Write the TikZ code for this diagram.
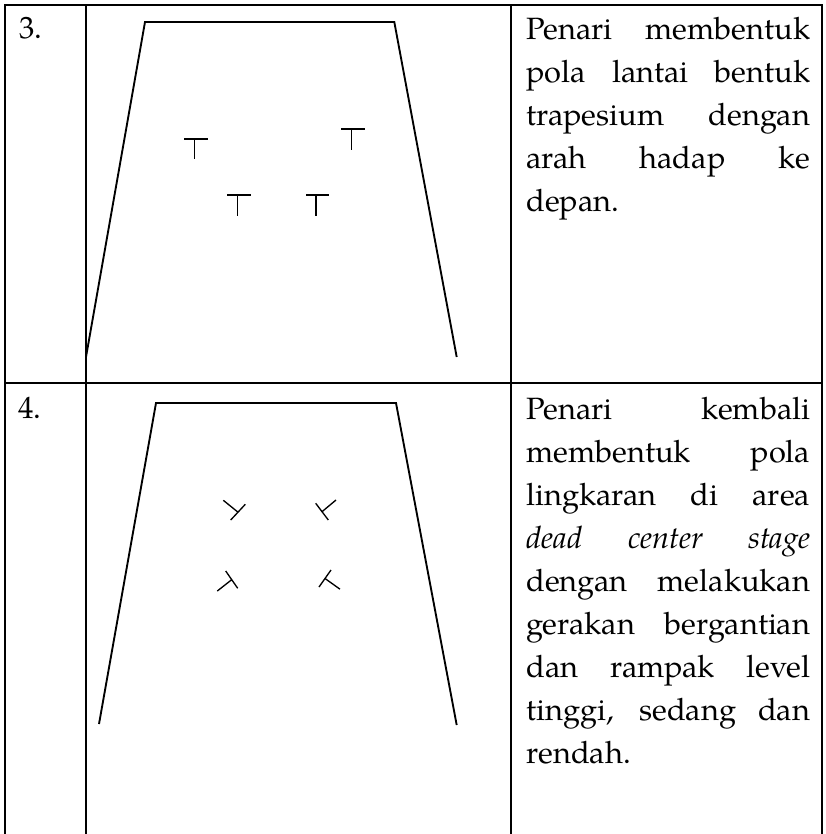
\documentclass[tikz,border=0pt]{standalone}
\usepackage{fontspec}
\setmainfont{TeX Gyre Pagella}
\tikzset{
  gridline/.style={line width=1.4pt, line cap=rect},
  stageline/.style={line width=1.4pt, line join=miter},
  dancer/.style={line width=1.0pt},
  celltext/.style={anchor=base west, inner sep=0pt},
}
\newcommand{\celltxt}{\fontsize{23.1pt}{32.25pt}\selectfont\tolerance=10000\hyphenpenalty=10000\relax}
\begin{document}
\begin{tikzpicture}[x=0.75pt,y=-0.75pt]
\useasboundingbox (0,0) rectangle (825,834);
% table grid
\draw[gridline] (5,834) -- (5,5) -- (822,5) -- (822,834);
\draw[gridline] (86,5) -- (86,834);
\draw[gridline] (511,5) -- (511,834);
\draw[gridline] (5,383) -- (822,383);
% row numbers
\node[celltext] (n3) at (19,39) {\celltxt 3.};
\node[celltext] (n4) at (18,418.5) {\celltxt 4.};
% stage 1
\draw[stageline] (86,357) -- (145,22) -- (394.3,22) -- (456.7,357);
\draw[dancer] (184,139) -- (208,139) (194.5,139) -- (194.5,159.5);
\draw[dancer] (341,129) -- (365,129) (351.5,129) -- (351.5,150);
\draw[dancer] (227,195) -- (251,195) (237.5,195) -- (237.5,216);
\draw[dancer] (306,195) -- (329,195) (316,195) -- (316,216);
% stage 2
\draw[stageline] (99,724) -- (156,403) -- (396,403) -- (456.7,725);
\draw[dancer] (245.3,504.3) -- (230.7,520) (238,512.2) -- (223.3,500.3);
\draw[dancer] (315.7,503.3) -- (328.3,520) (322,511.7) -- (336,500);
\draw[dancer] (225.7,571) -- (237.7,588.3) (231.7,579.7) -- (217.3,591);
\draw[dancer] (331,570) -- (319,587) (325,578.5) -- (340,589.2);
% descriptions
\node[celltext] (d3) at (526,39.3) {\parbox[t]{213pt}{\celltxt
Penari membentuk\linebreak pola lantai bentuk\linebreak trapesium dengan\linebreak arah hadap ke\linebreak depan.}};
\node[celltext] (d4) at (526,419) {\parbox[t]{213pt}{\celltxt
Penari kembali\linebreak membentuk pola\linebreak lingkaran di area\linebreak \textit{dead center stage}\linebreak dengan melakukan\linebreak gerakan bergantian\linebreak dan rampak level\linebreak tinggi, sedang dan\linebreak rendah.}};
\end{tikzpicture}
\end{document}
